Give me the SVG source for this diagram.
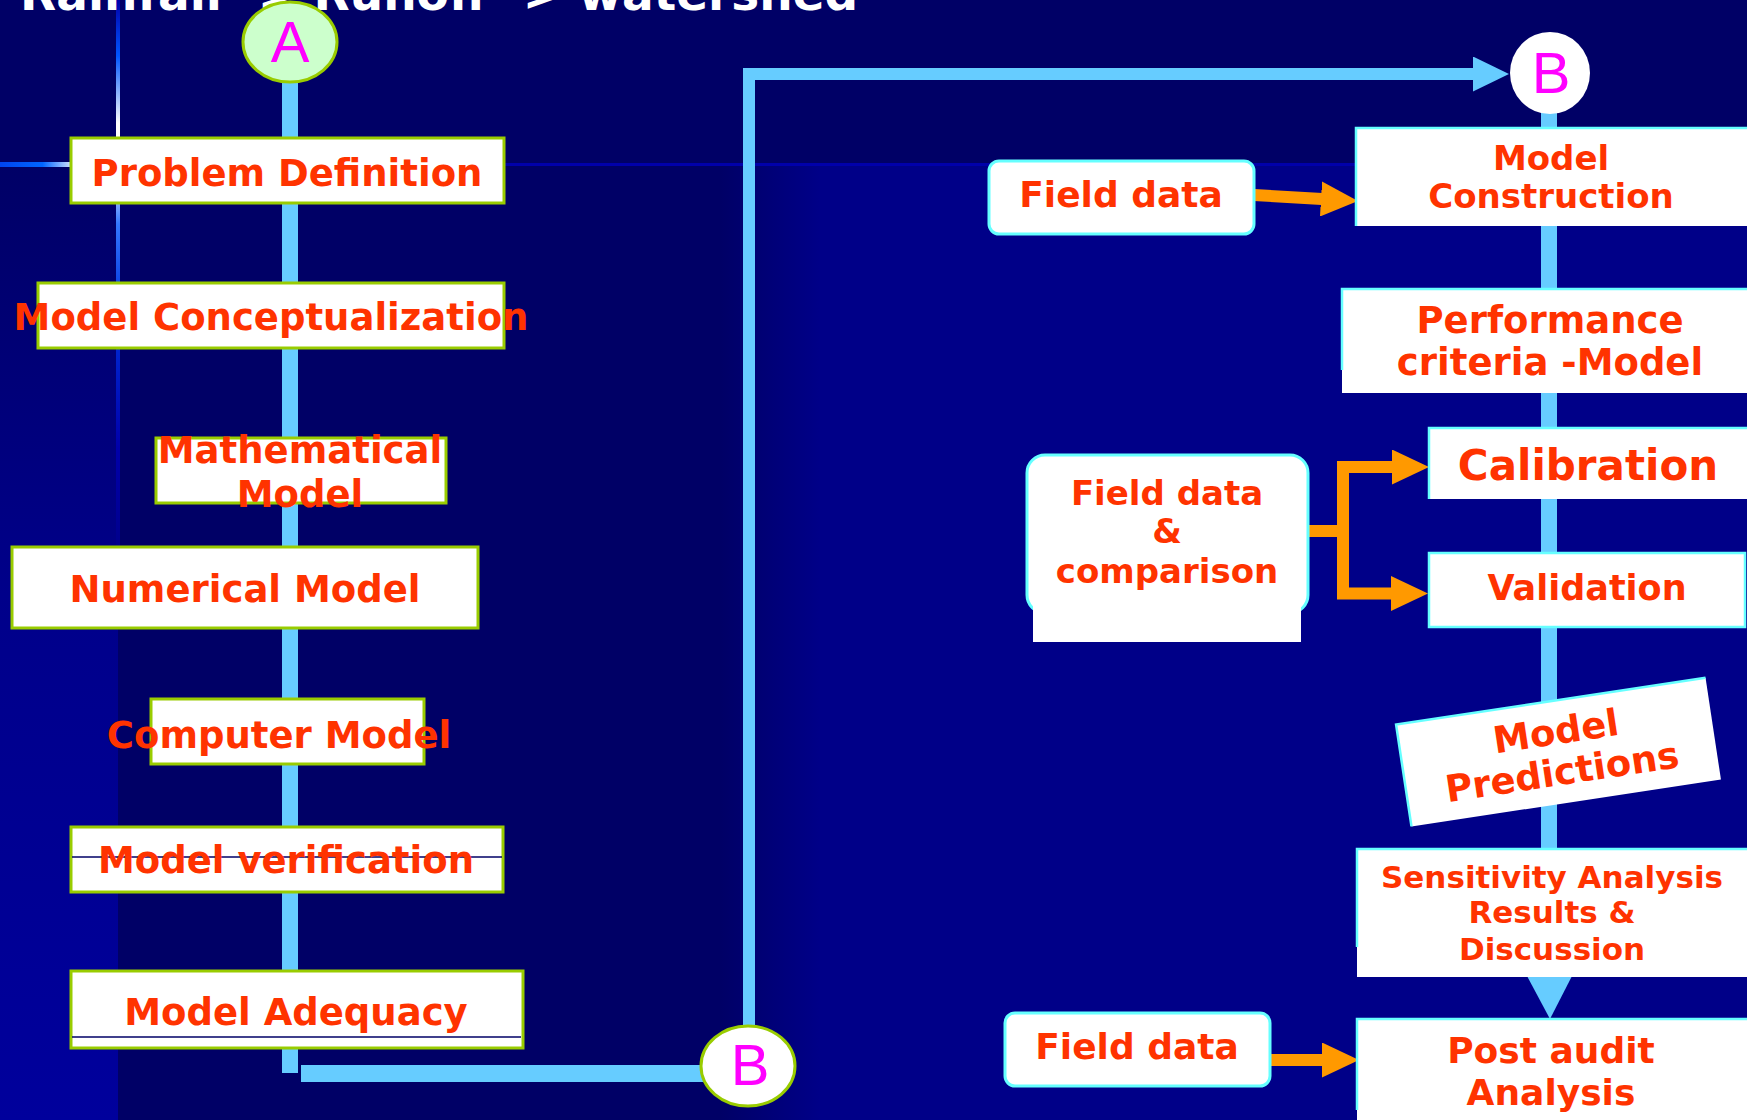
<svg xmlns="http://www.w3.org/2000/svg" width="1747" height="1120" viewBox="0 0 1747 1120">
<defs>
<style>
.box{fill:#ffffff;stroke:#99cc00;stroke-width:3}
.rb{fill:#ffffff}
.cy{fill:none;stroke:#66ffff;stroke-width:2.5}
.fd{fill:#ffffff;stroke:#66ffff;stroke-width:3}
.t{font-family:"DejaVu Sans",Verdana,sans-serif;font-weight:bold;fill:#ff3300;text-anchor:middle}
.lt{font-family:"Liberation Sans",Arial,sans-serif;fill:#ff00ff;text-anchor:middle;font-size:58px}
.blue{stroke:#66ccff;fill:none}
.org{stroke:#ff9900;fill:none;stroke-width:12}
.navy{stroke:#000066;stroke-width:1.5}
</style>
<marker id="ab" markerUnits="userSpaceOnUse" viewBox="0 0 36 35" markerWidth="36" markerHeight="35" refX="2" refY="17.5" orient="auto"><path d="M0,0 L36,17.5 L0,35 Z" fill="#66ccff"/></marker>
<marker id="ao" markerUnits="userSpaceOnUse" viewBox="0 0 37 35" markerWidth="37" markerHeight="35" refX="1" refY="17.5" orient="auto"><path d="M0,0 L37,17.5 L0,35 Z" fill="#ff9900"/></marker>
<linearGradient id="gl" x1="0" y1="164" x2="0" y2="1120" gradientUnits="userSpaceOnUse"><stop offset="0" stop-color="#000066"/><stop offset="0.45" stop-color="#00008a"/><stop offset="1" stop-color="#00009c"/></linearGradient>
<linearGradient id="gr" x1="720" y1="0" x2="820" y2="0" gradientUnits="userSpaceOnUse"><stop offset="0" stop-color="#000066"/><stop offset="1" stop-color="#000088"/></linearGradient>
<linearGradient id="gv" x1="0" y1="0" x2="0" y2="560" gradientUnits="userSpaceOnUse"><stop offset="0" stop-color="#0000aa"/><stop offset="0.1" stop-color="#0055ff"/><stop offset="0.22" stop-color="#ffffff"/><stop offset="0.3" stop-color="#ffffff"/><stop offset="0.4" stop-color="#3377ff"/><stop offset="0.55" stop-color="#0033dd"/><stop offset="0.8" stop-color="#0000aa"/><stop offset="1" stop-color="#000088"/></linearGradient>
<linearGradient id="gh" x1="0" y1="0" x2="71" y2="0" gradientUnits="userSpaceOnUse"><stop offset="0" stop-color="#0044ee"/><stop offset="0.6" stop-color="#0066ff"/><stop offset="1" stop-color="#ccddff"/></linearGradient>
</defs>

<g id="background">
<rect x="0" y="0" width="1747" height="1120" fill="#000066"/>
<rect x="500" y="164" width="1247" height="956" fill="url(#gr)"/>
<rect x="0" y="164" width="118" height="956" fill="url(#gl)"/>
<line x1="504" y1="164.5" x2="1747" y2="164.5" stroke="#0000aa" stroke-width="3"/>
<line x1="0" y1="164.5" x2="71" y2="164.5" stroke="url(#gh)" stroke-width="5"/>
<line x1="118" y1="0" x2="118" y2="560" stroke="url(#gv)" stroke-width="4"/>
<text x="20" y="10" font-family="DejaVu Sans,Verdana,sans-serif" font-weight="bold" font-size="47" fill="#ffffff">Rainfall -&gt; Runoff -&gt; watershed</text>
</g>

<g id="connectors">
<line class="blue" x1="290" y1="80" x2="290" y2="1073" stroke-width="16"/>
<line class="blue" x1="301" y1="1073.5" x2="706" y2="1073.5" stroke-width="17"/>
<path class="blue" d="M749,1030 V74 H1475" stroke-width="12" marker-end="url(#ab)"/>
<line class="blue" x1="1549" y1="110" x2="1549" y2="852" stroke-width="16"/>
<polygon points="1527,976 1572,976 1550,1019" fill="#66ccff"/>
<path class="org" d="M1254,195 L1322,199" marker-end="url(#ao)"/>
<path class="org" d="M1308,531 H1343 V467 H1393" marker-end="url(#ao)"/>
<path class="org" d="M1343,531 V593.5 H1392" marker-end="url(#ao)"/>
<path class="org" d="M1270,1060 H1323" marker-end="url(#ao)"/>
</g>

<g id="node-A">
<ellipse cx="290" cy="42" rx="47" ry="40" fill="#ccffcc" stroke="#99cc00" stroke-width="3"/>
<text class="lt" x="290" y="62">A</text>
</g>

<g id="node-problem-definition">
<rect class="box" x="71" y="138" width="433" height="65"/>
<text class="t" x="287" y="186" font-size="37">Problem Definition</text>
</g>

<g id="node-model-conceptualization">
<rect class="box" x="38" y="283" width="466" height="65"/>
<text class="t" x="271" y="330" font-size="37">Model Conceptualization</text>
</g>

<g id="node-mathematical-model">
<rect class="box" x="156" y="438" width="290" height="65"/>
<text class="t" x="300" y="463" font-size="37">Mathematical</text>
<text class="t" x="300" y="507" font-size="37">Model</text>
</g>

<g id="node-numerical-model">
<rect class="box" x="12" y="547" width="466" height="81"/>
<text class="t" x="245" y="602" font-size="37">Numerical Model</text>
</g>

<g id="node-computer-model">
<rect class="box" x="151" y="699" width="273" height="65"/>
<text class="t" x="279" y="748" font-size="37">Computer Model</text>
</g>

<g id="node-model-verification">
<rect class="box" x="71" y="827" width="432" height="65"/>
<line class="navy" x1="72" y1="857" x2="502" y2="857"/>
<text class="t" x="286" y="873" font-size="37">Model verification</text>
</g>

<g id="node-model-adequacy">
<rect class="box" x="71" y="971" width="452" height="77"/>
<line class="navy" x1="72" y1="1037" x2="521" y2="1037"/>
<text class="t" x="296" y="1025" font-size="37">Model Adequacy</text>
</g>

<g id="node-B-bottom">
<ellipse cx="748" cy="1066" rx="47" ry="40" fill="#ffffff" stroke="#99cc00" stroke-width="3"/>
<text class="lt" x="750" y="1085">B</text>
</g>

<g id="node-B-top">
<ellipse cx="1550" cy="73" rx="40" ry="41" fill="#ffffff"/>
<text class="lt" x="1551" y="93">B</text>
</g>

<g id="node-field-data-1">
<rect class="fd" x="989" y="161" width="265" height="73" rx="10"/>
<text class="t" x="1121" y="207" font-size="36">Field data</text>
</g>

<g id="node-model-construction">
<rect class="rb" x="1356" y="128" width="395" height="98"/>
<path class="cy" d="M1356,226 V128 H1747"/>
<text class="t" x="1551" y="170" font-size="34">Model</text>
<text class="t" x="1551" y="208" font-size="34">Construction</text>
</g>

<g id="node-performance">
<rect class="rb" x="1342" y="289" width="410" height="104"/>
<path class="cy" d="M1342,370 V289 H1747"/>
<text class="t" x="1550" y="333" font-size="37">Performance</text>
<text class="t" x="1550" y="375" font-size="37">criteria -Model</text>
</g>

<g id="node-calibration">
<rect class="rb" x="1429" y="428" width="322" height="71"/>
<path class="cy" d="M1429,499 V428 H1747"/>
<text class="t" x="1588" y="480" font-size="42">Calibration</text>
</g>

<g id="node-validation">
<rect class="rb" x="1429" y="553" width="316" height="74" stroke="#66ffff" stroke-width="2.5"/>
<text class="t" x="1587" y="600" font-size="35">Validation</text>
</g>

<g id="node-field-data-comparison">
<rect class="fd" x="1027" y="455" width="281" height="158" rx="18"/>
<rect class="rb" x="1033" y="604" width="268" height="38"/>
<text class="t" x="1167" y="505" font-size="34">Field data</text>
<text class="t" x="1167" y="543" font-size="34">&amp;</text>
<text class="t" x="1167" y="583" font-size="34">comparison</text>
</g>

<g id="node-model-predictions" transform="translate(1559,752) rotate(-8.6)">
<rect class="rb" x="-157" y="-51.5" width="313" height="103"/>
<path class="cy" d="M-157,51.5 V-51.5 H156"/>
<text class="t" x="0" y="-8" font-size="37">Model</text>
<text class="t" x="0" y="33" font-size="37">Predictions</text>
</g>

<g id="node-sensitivity">
<rect class="rb" x="1357" y="849" width="395" height="128"/>
<path class="cy" d="M1357,947 V849 H1747"/>
<text class="t" x="1552" y="888" font-size="31">Sensitivity Analysis</text>
<text class="t" x="1552" y="923" font-size="31">Results &amp;</text>
<text class="t" x="1552" y="960" font-size="31">Discussion</text>
</g>

<g id="node-field-data-2">
<rect class="fd" x="1005" y="1013" width="265" height="73" rx="10"/>
<text class="t" x="1137" y="1059" font-size="36">Field data</text>
</g>

<g id="node-post-audit">
<rect class="rb" x="1357" y="1019" width="395" height="105"/>
<path class="cy" d="M1357,1110 V1019 H1747"/>
<text class="t" x="1551" y="1063" font-size="36">Post audit</text>
<text class="t" x="1551" y="1105" font-size="36">Analysis</text>
</g>
</svg>
